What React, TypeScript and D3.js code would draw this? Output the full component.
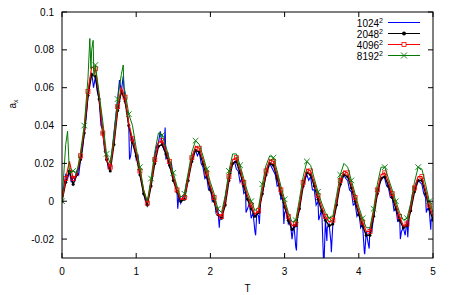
import React from "react";
import * as d3 from "d3";

// sample times
const tFine = d3.range(201).map((i) => +(i * 0.025).toFixed(3));
const tCoarse = d3.range(101).map((i) => +(i * 0.05).toFixed(3));

// 1024^2 (blue), step 0.025
const blueA = [
  0, 0.008, 0.014, 0.012, 0.016, 0.010, 0.013, 0.011,
  0.016, 0.014, 0.022, 0.027, 0.036, 0.044, 0.055, 0.064,
  0.068, 0.060, 0.066, 0.058, 0.054, 0.040, 0.038, 0.026,
  0.024, 0.017, 0.020, 0.026, 0.036, 0.045, 0.054, 0.064,
  0.058, 0.066, 0.052, 0.048, 0.040, 0.024, 0.034, 0.030,
  0.022, 0.024, 0.014, 0.010, 0.004, 0.000, 0.000, 0.004,
  0.010, 0.016, 0.024, 0.029, 0.031, 0.037, 0.030, 0.027,
  0.022, 0.026, 0.018, 0.020, 0.012, 0.010, 0.005, 0.003,
  -0.001, 0.002, 0.003, 0.009, 0.013, 0.018, 0.022, 0.026,
  0.027, 0.024, 0.026, 0.020, 0.018, 0.012, 0.013, 0.006,
  0.007, 0.000, 0.002, -0.006, -0.004, -0.010, -0.008, -0.004,
  0.002, 0.008, 0.012, 0.018, 0.020, 0.021, 0.017, 0.016,
  0.010, 0.012, 0.004, 0.005, -0.004, -0.001, -0.009, -0.006,
  -0.016, -0.006, -0.008, 0.000, 0.004, 0.010, 0.014, 0.019,
  0.020, 0.018, 0.016, 0.014, 0.008, 0.009, 0.001, 0.002,
  -0.006, -0.004, -0.012, -0.010, -0.020, -0.012, -0.024, -0.008,
  -0.004, 0.004, 0.008, 0.012, 0.014, 0.011, 0.013, 0.006,
  0.006, -0.002, 0.000, -0.008, -0.004, -0.032, -0.010, -0.014,
  -0.012, -0.022, -0.012, -0.006, -0.002, 0.006, 0.008, 0.013,
  0.014, 0.012, 0.011, 0.006, 0.005, -0.002, -0.001, -0.008,
  -0.006, -0.014, -0.012, -0.027, -0.016, -0.022, -0.014, -0.016,
  -0.008, -0.001, 0.004, 0.009, 0.011, 0.013, 0.012, 0.008,
  0.007, 0.002, 0.002, -0.005, -0.004, -0.011, -0.008, -0.016,
  -0.014, -0.018, -0.010, -0.008, -0.002, 0.004, 0.006, 0.010,
  0.011, 0.010, 0.009, 0.004, 0.002, -0.004, -0.005, -0.010,
  -0.008,
];
// extra blue jitter points
const blueSpikeT = [0.91, 1.39, 1.56, 2.12, 2.48, 2.61, 2.66, 2.99, 3.16, 3.46, 3.53, 3.57, 3.63, 4.02, 4.08, 4.14, 4.56, 4.66, 4.91, 4.97];
const blueSpikeA = [0.022, 0.039, -0.004, -0.014, -0.006, -0.018, -0.012, -0.012, -0.026, -0.010, -0.034, -0.021, -0.027, -0.012, -0.028, -0.025, -0.020, -0.019, -0.006, -0.015];

// 2048^2 (black), step 0.05
const blackA = [
  0, 0.010, 0.016, 0.009, 0.014, 0.022, 0.036, 0.056, 0.067, 0.066,
  0.054, 0.036, 0.022, 0.016, 0.030, 0.048, 0.058, 0.053, 0.040, 0.031,
  0.024, 0.014, 0.004, -0.002, 0.008, 0.020, 0.029, 0.030, 0.025, 0.019,
  0.011, 0.005, 0.000, 0.001, 0.011, 0.021, 0.027, 0.026, 0.020, 0.013,
  0.006, 0.000, -0.007, -0.009, -0.002, 0.011, 0.020, 0.021, 0.015, 0.008,
  0.001, -0.004, -0.008, -0.006, 0.004, 0.014, 0.020, 0.019, 0.012, 0.004,
  -0.003, -0.010, -0.015, -0.013, -0.004, 0.008, 0.015, 0.014, 0.008, 0.001,
  -0.005, -0.010, -0.013, -0.012, -0.002, 0.009, 0.014, 0.013, 0.007, 0.000,
  -0.007, -0.013, -0.018, -0.018, -0.008, 0.004, 0.012, 0.013, 0.008, 0.002,
  -0.004, -0.010, -0.014, -0.013, -0.005, 0.005, 0.011, 0.011, 0.004, -0.004,
  -0.010,
];

// 4096^2 (red), step 0.05
const redA = [
  0, 0.012, 0.021, 0.012, 0.014, 0.024, 0.038, 0.058, 0.071, 0.070,
  0.056, 0.036, 0.022, 0.018, 0.032, 0.050, 0.060, 0.055, 0.041, 0.033,
  0.026, 0.016, 0.006, -0.001, 0.010, 0.022, 0.031, 0.032, 0.027, 0.021,
  0.013, 0.006, 0.001, 0.002, 0.012, 0.023, 0.029, 0.028, 0.022, 0.015,
  0.008, 0.002, -0.007, -0.008, 0.000, 0.013, 0.022, 0.023, 0.017, 0.010,
  0.003, -0.002, -0.007, -0.005, 0.006, 0.016, 0.022, 0.021, 0.014, 0.006,
  -0.001, -0.008, -0.013, -0.012, -0.002, 0.010, 0.017, 0.016, 0.010, 0.003,
  -0.003, -0.008, -0.011, -0.010, 0.000, 0.011, 0.016, 0.015, 0.009, 0.002,
  -0.005, -0.011, -0.016, -0.016, -0.006, 0.006, 0.014, 0.015, 0.010, 0.004,
  -0.002, -0.008, -0.013, -0.012, -0.003, 0.007, 0.013, 0.013, 0.006, -0.002,
  -0.008,
];

// 8192^2 (green), step 0.05
const greenA = [
  0, 0.030, 0.015, 0.016, 0.015, 0.026, 0.040, 0.065, 0.080, 0.072,
  0.057, 0.042, 0.025, 0.020, 0.035, 0.054, 0.067, 0.058, 0.046, 0.040,
  0.028, 0.018, 0.006, 0.000, 0.012, 0.026, 0.036, 0.035, 0.029, 0.022,
  0.015, 0.008, 0.002, 0.004, 0.015, 0.026, 0.032, 0.030, 0.024, 0.017,
  0.010, 0.004, -0.004, -0.006, 0.003, 0.016, 0.025, 0.025, 0.019, 0.012,
  0.005, 0.000, -0.005, -0.003, 0.009, 0.019, 0.024, 0.023, 0.016, 0.008,
  0.001, -0.006, -0.011, -0.010, 0.001, 0.013, 0.021, 0.019, 0.012, 0.005,
  -0.001, -0.006, -0.009, -0.008, 0.003, 0.014, 0.020, 0.018, 0.011, 0.004,
  -0.003, -0.009, -0.014, -0.014, -0.004, 0.009, 0.018, 0.018, 0.012, 0.006,
  0.000, -0.006, -0.010, -0.009, -0.001, 0.010, 0.018, 0.017, 0.009, 0.000,
  -0.006,
];
// extra green spikes
const greenSpikeT = [0.075, 0.375, 0.39, 0.42, 0.43, 0.825, 0.835];
const greenSpikeA = [0.037, 0.086, 0.070, 0.085, 0.066, 0.072, 0.060];

const xTicks = [0, 1, 2, 3, 4, 5];
const yTicks = [-0.02, 0, 0.02, 0.04, 0.06, 0.08, 0.1];
const yTickLabels = ["-0.02", "0", "0.02", "0.04", "0.06", "0.08", "0.1"];
const legendBases = ["1024", "2048", "4096", "8192"];

const W = 452;
const H = 295;
const L = 62, R = 433, TOP = 12, BOT = 258;

export default function App() {
  const x = d3.scaleLinear().domain([0, 5]).range([L, R]);
  const y = d3.scaleLinear().domain([-0.03, 0.1]).range([BOT, TOP]);
  const line = d3
    .line<[number, number]>()
    .x((d) => x(d[0]))
    .y((d) => y(d[1]));

  const blue: [number, number][] = tFine
    .map((t, i) => [t, blueA[i]] as [number, number])
    .concat(blueSpikeT.map((t, i) => [t, blueSpikeA[i]] as [number, number]))
    .sort((a, b) => a[0] - b[0]);
  const black: [number, number][] = tCoarse.map((t, i) => [t, blackA[i]]);
  const red: [number, number][] = tCoarse.map((t, i) => [t, redA[i]]);
  const green: [number, number][] = tCoarse
    .map((t, i) => [t, greenA[i]] as [number, number])
    .concat(greenSpikeT.map((t, i) => [t, greenSpikeA[i]] as [number, number]))
    .sort((a, b) => a[0] - b[0]);

  const BLUE = "#0000ff";
  const RED = "#ff0000";
  const GREEN = "#007a00";
  const font = "'Liberation Sans', Arial, sans-serif";

  const cross = (cx: number, cy: number, s: number) =>
    `M${cx - s},${cy - s}L${cx + s},${cy + s}M${cx - s},${cy + s}L${cx + s},${cy - s}`;

  const legendY = [22.5, 33.5, 44.5, 55.5];
  const legendColors = [BLUE, "#000", RED, GREEN];

  return (
    <svg
      width={W}
      height={H}
      style={{ position: "absolute", left: 0, top: 0, background: "#fff" }}
      fontFamily={font}
    >
      <defs>
        <clipPath id="plotclip">
          <rect x={L} y={TOP} width={R - L} height={BOT - TOP} />
        </clipPath>
      </defs>
      <rect x={0} y={0} width={W} height={H} fill="#fff" />

      <g clipPath="url(#plotclip)">
        <path d={line(blue) || ""} fill="none" stroke={BLUE} strokeWidth={1.1} />
        <path d={line(black) || ""} fill="none" stroke="#000" strokeWidth={1.4} />
        {black.map((d, i) => (
          <circle key={"k" + i} cx={x(d[0])} cy={y(d[1])} r={1.5} fill="#000" />
        ))}
        <path d={line(red) || ""} fill="none" stroke={RED} strokeWidth={1.2} />
        {red
          .filter((_, i) => i % 2 === 1)
          .map((d, i) => (
            <rect
              key={"r" + i}
              x={x(d[0]) - 2}
              y={y(d[1]) - 2}
              width={4}
              height={4}
              fill="none"
              stroke={RED}
              strokeWidth={0.8}
            />
          ))}
        <path d={line(green) || ""} fill="none" stroke={GREEN} strokeWidth={1} />
        {tCoarse
          .map((t, i) => [t, greenA[i]] as [number, number])
          .filter((_, i) => i % 3 === 0)
          .map((d, i) => (
            <path key={"g" + i} d={cross(x(d[0]), y(d[1]), 2.8)} stroke={GREEN} strokeWidth={0.9} fill="none" />
          ))}
      </g>

      {/* frame */}
      <rect x={L} y={TOP} width={R - L} height={BOT - TOP} fill="none" stroke="#000" strokeWidth={1} />

      {/* x ticks */}
      {xTicks.map((t) => (
        <g key={"xt" + t}>
          <line x1={x(t)} x2={x(t)} y1={BOT} y2={BOT - 5} stroke="#000" />
          <line x1={x(t)} x2={x(t)} y1={TOP} y2={TOP + 5} stroke="#000" />
          <text x={x(t)} y={275} fontSize={10} textAnchor="middle" fill="#000">
            {t}
          </text>
        </g>
      ))}
      {/* y ticks */}
      {yTicks.map((v, i) => (
        <g key={"yt" + i}>
          <line x1={L} x2={L + 5} y1={y(v)} y2={y(v)} stroke="#000" />
          <line x1={R} x2={R - 5} y1={y(v)} y2={y(v)} stroke="#000" />
          <text x={54} y={y(v) + 3.5} fontSize={10} textAnchor="end" fill="#000">
            {yTickLabels[i]}
          </text>
        </g>
      ))}

      {/* axis labels */}
      <text x={x(2.5)} y={292} fontSize={10} textAnchor="middle" fill="#000">
        T
      </text>
      <text transform="translate(16,104) rotate(-90)" fontSize={10} textAnchor="middle" fill="#000">
        a
        <tspan fontSize={7} dy={2}>
          x
        </tspan>
      </text>

      {/* legend */}
      {legendBases.map((b, i) => (
        <g key={"lg" + i}>
          <text x={383} y={legendY[i] + 4} fontSize={10} textAnchor="end" fill="#000">
            {b}
            <tspan fontSize={7} dy={-4}>
              2
            </tspan>
          </text>
          <line x1={388} x2={420} y1={legendY[i]} y2={legendY[i]} stroke={legendColors[i]} strokeWidth={1} />
          {i === 1 && <circle cx={404} cy={legendY[i]} r={2} fill="#000" />}
          {i === 2 && (
            <rect x={402} y={legendY[i] - 2} width={4} height={4} fill="#fff" stroke={RED} strokeWidth={0.8} />
          )}
          {i === 3 && <path d={cross(404, legendY[i], 3)} stroke={GREEN} strokeWidth={0.9} fill="none" />}
        </g>
      ))}
    </svg>
  );
}
